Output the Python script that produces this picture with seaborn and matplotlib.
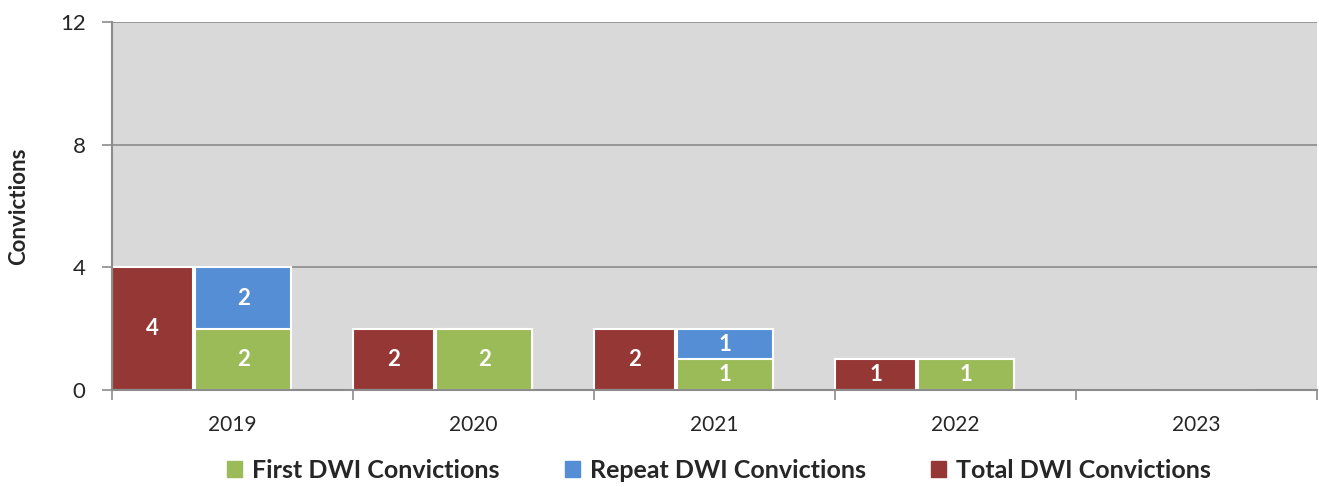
import matplotlib
matplotlib.use('Agg')
import matplotlib.pyplot as plt
from matplotlib.patches import Patch
import numpy as np
import pandas as pd
import seaborn as sns

years = ['2019', '2020', '2021', '2022', '2023']
first = [2, 2, 1, 1, 0]
repeat = [2, 0, 1, 0, 0]
total = [4, 2, 2, 1, 0]

GREEN = '#9BBB59'
BLUE = '#558ED5'
RED = '#953735'

sns.set_theme(style='white')
plt.rcParams['font.family'] = ['Lato', 'DejaVu Sans']

df = pd.DataFrame({'year': years, 'first': first, 'repeat': repeat, 'total': total})
df['stack'] = df['first'] + df['repeat']
pos = np.arange(len(years))
# bar offsets inside each category slot
total_w, stack_w = 0.336, 0.40
df['x_total'] = pos - 0.5 + total_w / 2
df['x_stack'] = pos - 0.156 + stack_w / 2

fig = plt.figure(figsize=(13.19, 4.87), dpi=100)
ax = fig.add_axes([0.0849, 0.199, 0.9136, 0.756])
ax.set_facecolor('#D9D9D9')
ax.set_axisbelow(True)
ax.yaxis.grid(True, color='#8C8C8C', linewidth=1.2)

bar_kw = dict(edgecolor='white', linewidth=1.5, align='center')
ax.bar(df['x_total'], df['total'], width=total_w, color=RED, **bar_kw)
ax.bar(df['x_stack'], df['stack'], width=stack_w, color=BLUE, **bar_kw)
ax.bar(df['x_stack'], df['first'], width=stack_w, color=GREEN, **bar_kw)

lbl = dict(ha='center', va='center', color='white', fontsize=16, fontweight='bold')
for _, r in df.iterrows():
    if r['total']:
        ax.text(r['x_total'], r['total'] / 2, str(r['total']), **lbl)
    if r['first']:
        ax.text(r['x_stack'], r['first'] / 2, str(r['first']), **lbl)
    if r['repeat']:
        ax.text(r['x_stack'], r['first'] + r['repeat'] / 2, str(r['repeat']), **lbl)

ax.set_xlim(-0.5, len(years) - 0.5)
ax.set_ylim(0, 12)
ax.set_yticks([0, 4, 8, 12])
ax.set_xticks(pos)
ax.set_xticklabels(years)
ax.set_xticks(np.arange(-0.5, len(years)), minor=True)
ax.tick_params(axis='x', which='major', length=0, pad=18, labelsize=15)
ax.tick_params(axis='x', which='minor', length=7, width=1.2, color='#8C8C8C', direction='out', bottom=True)
ax.tick_params(axis='y', length=7, width=1.2, color='#8C8C8C', direction='out', left=True, labelsize=16, pad=12)

for s in ['top', 'right']:
    ax.spines[s].set_visible(False)
for s in ['left', 'bottom']:
    ax.spines[s].set_color('#8C8C8C')
    ax.spines[s].set_linewidth(1.5)

ax.set_ylabel('Convictions', fontsize=16, fontweight='bold', labelpad=22)

handles = [Patch(color=GREEN), Patch(color=BLUE), Patch(color=RED)]
labels = ['First DWI Convictions', 'Repeat DWI Convictions', 'Total DWI Convictions']
fig.legend(handles, labels, loc='lower center', bbox_to_anchor=(0.545, -0.035), ncol=3,
           frameon=False, prop={'weight': 'bold', 'size': 18},
           handlelength=0.6, handleheight=0.6, handletextpad=0.4, columnspacing=2.6)

fig.savefig('out.png', dpi=100)
